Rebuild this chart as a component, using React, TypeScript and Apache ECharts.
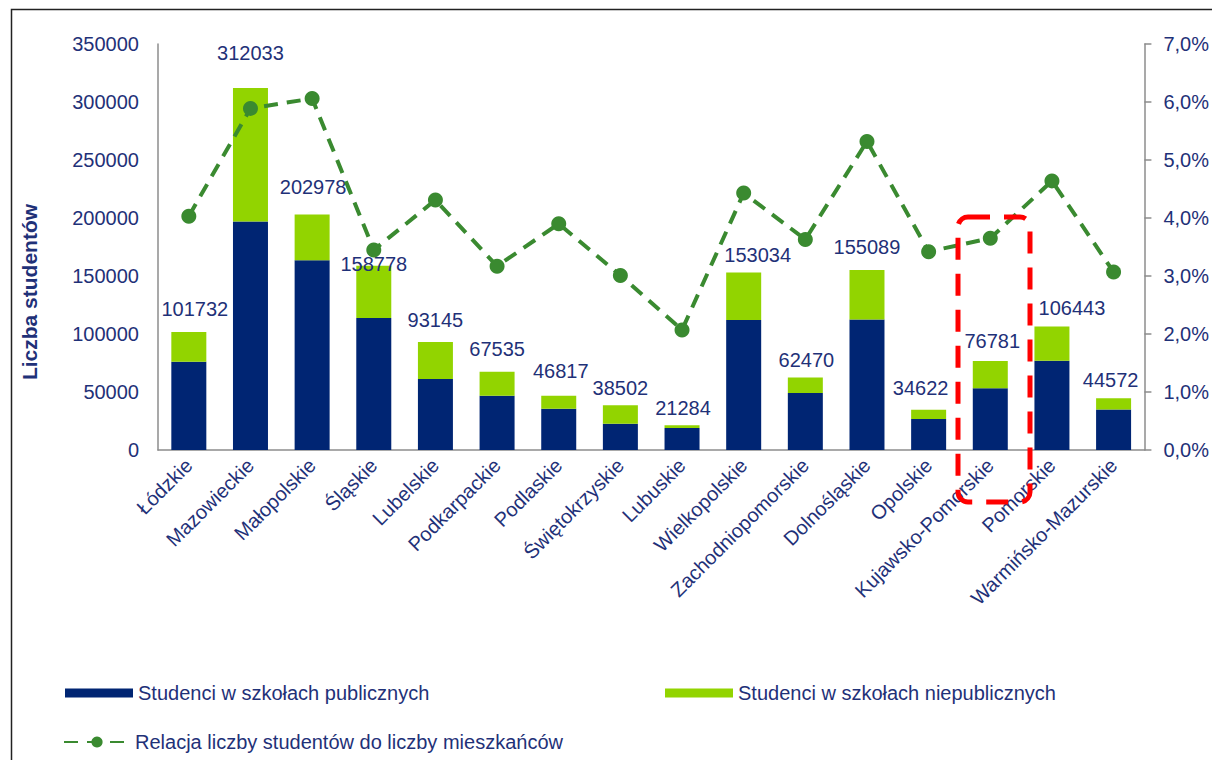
import React, { useEffect, useRef } from 'react';
import * as echarts from 'echarts';

const categories = ['Łódzkie', 'Mazowieckie', 'Małopolskie', 'Śląskie', 'Lubelskie', 'Podkarpackie', 'Podlaskie', 'Świętokrzyskie', 'Lubuskie', 'Wielkopolskie', 'Zachodniopomorskie', 'Dolnośląskie', 'Opolskie', 'Kujawsko-Pomorskie', 'Pomorskie', 'Warmińsko-Mazurskie'];
const totalStudents = [101732, 312033, 202978, 158778, 93145, 67535, 46817, 38502, 21284, 153034, 62470, 155089, 34622, 76781, 106443, 44572];
const publicStudents = [76000, 197000, 163500, 113800, 61200, 46800, 35600, 22700, 19000, 112000, 49100, 112600, 26700, 53200, 77000, 35000];
const ratioPercent = [4.03, 5.89, 6.06, 3.45, 4.31, 3.17, 3.90, 3.01, 2.07, 4.43, 3.63, 5.32, 3.42, 3.65, 4.64, 3.07];
const leftTicks = { min: 0, max: 350000, interval: 50000 };
const rightTicks = { min: 0, max: 7, interval: 1 };

const NAME_PUBLIC = 'Studenci w szkołach publicznych';
const NAME_PRIVATE = 'Studenci w szkołach niepublicznych';
const NAME_RATIO = 'Relacja liczby studentów do liczby mieszkańców';

// label placement tweaks (style only)
const labelShift = [[6, -13], [0, -25], [1, -18], [0, 8], [0, -12], [0, -13], [2, -15], [0, -7], [1, -7], [14, -7], [1, -8], [0, -13], [-8, -12], [2, -10], [20, -9], [-3, -8]];

const NAVY = '#1F3178';
const FONT = '"Liberation Sans", Arial, sans-serif';

export default function App() {
  const ref = useRef<HTMLDivElement>(null);
  useEffect(() => {
    const chart = echarts.init(ref.current!, null, { renderer: 'svg' });
    const privateStudents = totalStudents.map((t, i) => t - publicStudents[i]);
    const option: any = {
      animation: false,
      backgroundColor: '#ffffff',
      textStyle: { fontFamily: FONT },
      grid: { left: 158, right: 67, top: 44, bottom: 310, containLabel: false },
      legend: [
        {
          data: [NAME_PUBLIC], left: 60, top: 678, itemWidth: 68, itemHeight: 9, itemGap: 0,
          icon: 'rect', textStyle: { color: NAVY, fontSize: 20, fontFamily: FONT }, selectedMode: false,
        },
        {
          data: [NAME_PRIVATE], left: 660, top: 678, itemWidth: 68, itemHeight: 9, itemGap: 0,
          icon: 'rect', textStyle: { color: NAVY, fontSize: 20, fontFamily: FONT }, selectedMode: false,
        },
        {
          data: [NAME_RATIO], left: 58, top: 727, itemWidth: 66, itemHeight: 14, itemGap: 0,
          textStyle: { color: NAVY, fontSize: 20, fontFamily: FONT }, selectedMode: false,
        },
      ],
      xAxis: {
        type: 'category',
        data: categories,
        axisLine: { lineStyle: { color: '#8c8c8c', width: 1.5 } },
        axisTick: { show: false },
        axisLabel: { rotate: 45, interval: 0, margin: 12, color: NAVY, fontSize: 20, fontFamily: FONT },
      },
      yAxis: [
        {
          type: 'value', ...leftTicks,
          axisLine: { show: true, lineStyle: { color: '#8c8c8c', width: 1.5 } },
          axisTick: { show: false },
          splitLine: { show: false },
          axisLabel: {
            color: NAVY, fontSize: 20, margin: 19, fontFamily: FONT,
            formatter: (v: number) => String(v),
          },
        },
        {
          type: 'value', ...rightTicks, position: 'right',
          axisLine: { show: true, lineStyle: { color: '#8c8c8c', width: 1.5 } },
          axisTick: { show: true, length: 7, lineStyle: { color: '#8c8c8c', width: 1.5 } },
          splitLine: { show: false },
          axisLabel: {
            color: NAVY, fontSize: 20, margin: 19, fontFamily: FONT,
            formatter: (v: number) => v.toFixed(1).replace('.', ',') + '%',
          },
        },
      ],
      series: [
        {
          name: NAME_PUBLIC, type: 'bar', stack: 'total', barWidth: 35,
          itemStyle: { color: '#002573' },
          data: publicStudents,
        },
        {
          name: NAME_PRIVATE, type: 'bar', stack: 'total', barWidth: 35,
          itemStyle: { color: '#92D400' },
          data: privateStudents.map((v, i) => ({
            value: v,
            label: { offset: labelShift[i] },
          })),
          label: {
            show: true, position: 'top', distance: 0, color: NAVY, fontSize: 20, fontFamily: FONT,
            formatter: (p: any) => String(totalStudents[p.dataIndex]),
          },
        },
        {
          name: NAME_RATIO, type: 'line', yAxisIndex: 1,
          data: ratioPercent,
          symbol: 'circle', symbolSize: 15,
          itemStyle: { color: '#3A8A30' },
          lineStyle: { color: '#3A8A30', width: 4, type: [14, 9] },
          z: 5,
        },
      ],
      graphic: [
        {
          type: 'rect', left: 9, top: 7,
          shape: { x: 9, y: 7, width: 1230, height: 800 },
          style: { fill: 'none', stroke: '#222', lineWidth: 1.5 },
          silent: true,
        },
        {
          type: 'text', x: 29, y: 292, rotation: Math.PI / 2,
          style: {
            text: 'Liczba studentów', fill: NAVY, fontSize: 21, fontWeight: 'bold', fontFamily: FONT,
            textAlign: 'center', textVerticalAlign: 'middle',
          },
        },
        {
          type: 'rect',
          shape: { x: 958, y: 217, width: 72, height: 285, r: 10 },
          style: { fill: 'none', stroke: '#FF0000', lineWidth: 5, lineDash: [22, 14] },
          z: 100, silent: true,
        },
      ],
    };
    chart.setOption(option);
    return () => chart.dispose();
  }, []);
  return (
    <div
      ref={ref}
      style={{ position: 'absolute', left: 0, top: 0, width: 1212, height: 760, background: '#fff' }}
    />
  );
}
